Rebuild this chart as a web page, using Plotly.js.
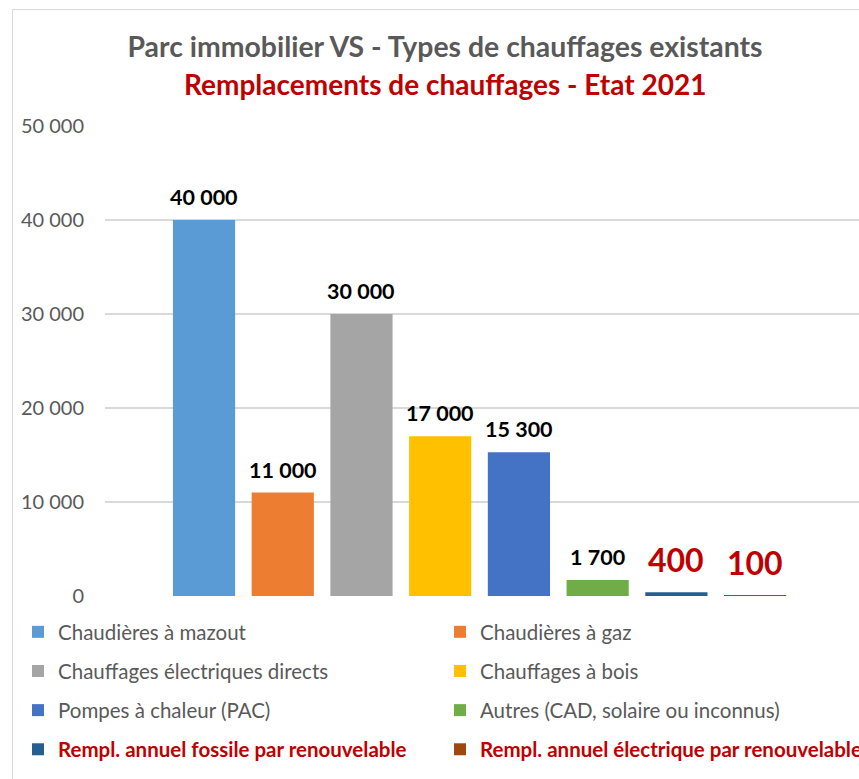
<!DOCTYPE html>
<html>
<head>
<meta charset="utf-8">
<script src="https://cdn.plot.ly/plotly-3.0.1.min.js"></script>
<style>
  html, body { margin: 0; padding: 0; background: #fff; overflow: hidden; }
  #chart { width: 859px; height: 779px; position: absolute; left: 0; top: 0; }
  #frame { position: absolute; left: 12px; top: 9px; width: 900px; height: 800px;
           border: 1px solid #d9d9d9; pointer-events: none; }
</style>
</head>
<body>
<div id="chart"></div>
<div id="frame"></div>
<script>
// ---- data ----
var seriesNames = [
  "Chaudières à mazout",
  "Chaudières à gaz",
  "Chauffages électriques directs",
  "Chauffages à bois",
  "Pompes à chaleur (PAC)",
  "Autres (CAD, solaire ou inconnus)",
  "Rempl. annuel fossile par renouvelable",
  "Rempl. annuel électrique par renouvelable"
];
var seriesValues = [40000, 11000, 30000, 17000, 15300, 1700, 400, 100];
var seriesColors = ["#5B9BD5", "#ED7D31", "#A5A5A5", "#FFC000", "#4472C4", "#70AD47", "#255E91", "#9E480E"];
var highlighted = [false, false, false, false, false, false, true, true];
var yTicks = [0, 10000, 20000, 30000, 40000, 50000];

function fmt(v) { return String(v).replace(/\B(?=(\d{3})+(?!\d))/g, " "); }

var FONT = "Lato, 'Open Sans', sans-serif";
var RED = "#C00000";

var traces = [];
var annotations = [];
for (var i = 0; i < seriesNames.length; i++) {
  var label = highlighted[i]
    ? "<b><span style='color:" + RED + "'>" + seriesNames[i] + "</span></b>"
    : seriesNames[i];
  traces.push({
    type: "bar",
    x: [i],
    y: [seriesValues[i]],
    width: [0.79],
    name: label,
    legendgroup: "g" + i,
    legend: (i % 2 === 0) ? "legend" : "legend2",
    marker: { color: seriesColors[i], line: { width: 0 } },
    hoverinfo: "skip",
    showlegend: true
  });
  annotations.push({
    x: i, y: seriesValues[i], xref: "x", yref: "y",
    text: "<b>" + fmt(seriesValues[i]) + "</b>",
    showarrow: false, xanchor: "center", yanchor: "middle",
    yshift: highlighted[i] ? 33 : 23,
    font: highlighted[i] ? { family: FONT, size: 32, color: RED } : { family: FONT, size: 21.5, color: "#000000" }
  });
}

annotations.push({
  xref: "paper", yref: "paper",
  x: (445 - 105) / 754, y: (596 - 84) / 470,
  xanchor: "center", yanchor: "middle", showarrow: false,
  text: "<b>Remplacements de chauffages - Etat 2021</b>",
  font: { family: FONT, size: 28, color: RED }
});

var legendCommon = {
  orientation: "v",
  xref: "container", yref: "container",
  yanchor: "top", xanchor: "left",
  bgcolor: "rgba(0,0,0,0)",
  borderwidth: 0,
  tracegroupgap: 9.5,
  font: { family: FONT, size: 20.5, color: "#595959" }
};

var layout = {
  width: 859, height: 779,
  margin: { l: 105, r: 0, t: 126, b: 183, autoexpand: false },
  paper_bgcolor: "#ffffff",
  plot_bgcolor: "#ffffff",
  separators: ", ",
  barmode: "overlay",
  title: {
    text: "<b>Parc immobilier VS - Types de chauffages existants</b>",
    font: { family: FONT, size: 28.4, color: "#595959" },
    xref: "container", yref: "container",
    x: 445 / 859, y: 1 - 47 / 779,
    xanchor: "center", yanchor: "middle"
  },
  xaxis: {
    range: [-1.258, 8.32],
    showticklabels: false, showgrid: false, zeroline: false, showline: false,
    fixedrange: true
  },
  yaxis: {
    range: [0, 50000],
    tickvals: yTicks,
    ticktext: yTicks.map(fmt),
    showgrid: true, gridcolor: "#d9d9d9", gridwidth: 1.5,
    zeroline: false, showline: false,
    ticks: "", ticklabelstandoff: 20,
    tickfont: { family: FONT, size: 20, color: "#595959" },
    fixedrange: true
  },
  legend: Object.assign({}, legendCommon, { x: 18 / 859, y: 1 - 612 / 779 }),
  legend2: Object.assign({}, legendCommon, { x: 440 / 859, y: 1 - 612 / 779 }),
  annotations: annotations,
  showlegend: true
};

Plotly.newPlot("chart", traces, layout, { displayModeBar: false, staticPlot: true });
</script>
</body>
</html>
